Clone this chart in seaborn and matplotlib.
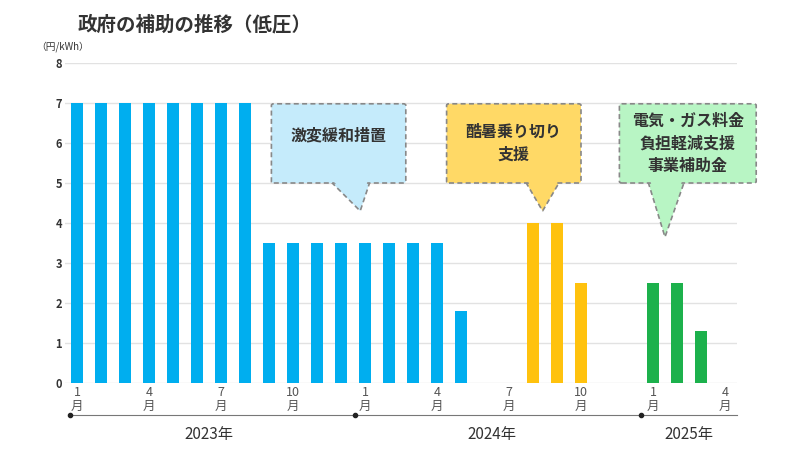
import matplotlib
matplotlib.use("Agg")
import matplotlib.pyplot as plt
import matplotlib.transforms as mtransforms
from matplotlib.patches import FancyBboxPatch, Polygon
import seaborn as sns
import pandas as pd

plt.rcParams["font.family"] = "Noto Sans CJK JP"

months = ["2023-01","2023-02","2023-03","2023-04","2023-05","2023-06","2023-07","2023-08","2023-09","2023-10","2023-11","2023-12",
          "2024-01","2024-02","2024-03","2024-04","2024-05","2024-06","2024-07","2024-08","2024-09","2024-10","2024-11","2024-12",
          "2025-01","2025-02","2025-03","2025-04"]
values = [7,7,7,7,7,7,7,7,3.5,3.5,3.5,3.5,
          3.5,3.5,3.5,3.5,1.8,0,0,4.0,4.0,2.5,0,0,
          2.5,2.5,1.3,0]
programs = ["激変緩和措置"]*17 + ["酷暑乗り切り支援"]*7 + ["電気・ガス料金負担軽減支援事業補助金"]*4
tick_labels = ["1\n月","","","4\n月","","","7\n月","","","10\n月","","",
               "1\n月","","","4\n月","","","7\n月","","","10\n月","","",
               "1\n月","","","4\n月"]
years = ["2023年","2024年","2025年"]

palette = {"激変緩和措置":"#00AEEF","酷暑乗り切り支援":"#FFC20E","電気・ガス料金負担軽減支援事業補助金":"#1CB14C"}
df = pd.DataFrame({"month":months,"value":values,"program":programs})

fig = plt.figure(figsize=(8,4.5), dpi=100)
ax = fig.add_axes([65/800, 67/450, 672/800, 320/450])
sns.barplot(data=df, x="month", y="value", hue="program", palette=palette, dodge=False,
            width=0.46, legend=False, ax=ax, saturation=1)
ax.set_ylim(0,8)
ax.set_xlim(-0.5, 27.5)
ax.set_yticks(range(9))
ax.set_yticklabels([str(i) for i in range(9)], fontsize=8, fontweight="bold", color="#333")
ax.set_xticks(range(28))
ax.set_xticklabels(tick_labels, fontsize=9, color="#555", linespacing=1.1)
ax.tick_params(length=0, pad=2)
ax.set_xlabel(""); ax.set_ylabel("")
ax.grid(axis="y", color="#e2e2e2", lw=1)
ax.set_axisbelow(True)
for s in ax.spines.values(): s.set_visible(False)

fig.text(78/800, 1-25/450, "政府の補助の推移（低圧）", fontsize=14, fontweight="bold", color="#333", va="center")
fig.text(36/800, 1-47/450, "（円/kWh）", fontsize=7, color="#333", va="center")

# year axis
tr = mtransforms.blended_transform_factory(ax.transData, ax.transAxes)
ylin = -0.1
ax.plot([-0.3, 11.5], [ylin, ylin], color="#777", lw=0.8, transform=tr, clip_on=False)
ax.plot([11.7, 23.4], [ylin, ylin], color="#777", lw=0.8, transform=tr, clip_on=False)
ax.plot([23.6, 27.5], [ylin, ylin], color="#777", lw=0.8, transform=tr, clip_on=False)
for xd in [-0.3, 11.6, 23.5]:
    ax.plot([xd], [ylin], "o", ms=3, color="#222", transform=tr, clip_on=False)
for xd, t in zip([5.5, 17.3, 25.5], years):
    ax.text(xd, -0.16, t, transform=tr, ha="center", va="center", fontsize=11, color="#333")

# callouts
callouts = [
    (8.1, 13.7, 5.0, 6.98, 11.8, 4.3, 10.6, 12.2, "#C5EBFB", "激変緩和措置"),
    (15.4, 21.0, 5.0, 6.98, 19.4, 4.3, 18.7, 20.1, "#FFD966", "酷暑乗り切り\n支援"),
    (22.6, 28.3, 5.0, 6.98, 24.5, 3.65, 23.8, 25.3, "#B8F5C4", "電気・ガス料金\n負担軽減支援\n事業補助金"),
]
for x0, x1, y0, y1, tx, ty, b0, b1, fc, txt in callouts:
    ax.add_patch(Polygon([[b0, y0+0.02], [tx, ty], [b1, y0+0.02]], closed=True, fc=fc, ec="#888",
                         ls=(0,(3,2)), lw=1.2, clip_on=False, zorder=5))
    ax.add_patch(FancyBboxPatch((x0, y0), x1-x0, y1-y0, boxstyle="round,pad=0,rounding_size=0.1",
                                fc=fc, ec="#888", ls=(0,(3,2)), lw=1.2, clip_on=False, zorder=5,
                                mutation_aspect=0.4))
    ax.add_patch(Polygon([[b0+0.1, y0+0.03], [tx, ty+0.1], [b1-0.1, y0+0.03]], closed=True, fc=fc,
                         ec="none", clip_on=False, zorder=6))
    ax.text((x0+x1)/2, (y0+y1)/2 + (0.2 if txt.count("\n")==0 else 0), txt, ha="center", va="center",
            fontsize=11.5, fontweight="bold", color="#333", zorder=7, linespacing=1.5)

fig.savefig("out.png", dpi=100, facecolor="white")
